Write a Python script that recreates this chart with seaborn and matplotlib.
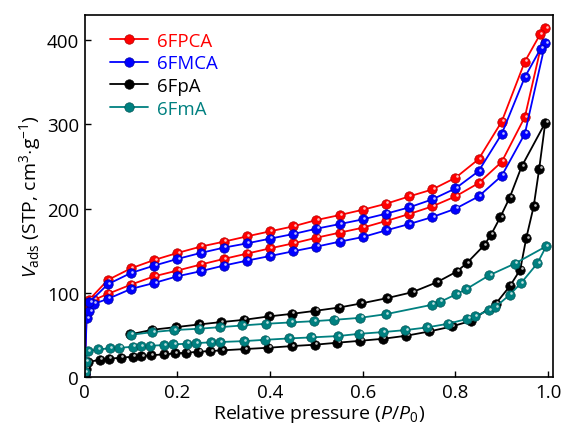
import numpy as np
import pandas as pd
import matplotlib
matplotlib.use("Agg")
import matplotlib.pyplot as plt
import matplotlib.transforms as mtransforms
from matplotlib.lines import Line2D
import seaborn as sns

# ---- N2 isotherm data (relative pressure, adsorbed volume) ----
# 6FPCA
fpca_ads_p = [0.0003, 0.004, 0.009, 0.02, 0.05, 0.1, 0.15, 0.2, 0.25, 0.3, 0.35,
              0.4, 0.45, 0.5, 0.55, 0.6, 0.65, 0.7, 0.75, 0.8, 0.85, 0.9, 0.95, 0.994]
fpca_ads_v = [5, 76, 85, 91.6, 98.7, 109.8, 119.6, 126.4, 133.5, 140.2, 146.5,
              152.8, 158.7, 165.4, 171.4, 177.3, 185.2, 193.5, 202.6, 214.4, 230.2, 255.5, 308.8, 414.6]
fpca_des_p = [0.983, 0.95, 0.9, 0.85, 0.8, 0.75, 0.7, 0.65, 0.6, 0.55, 0.5, 0.45, 0.4, 0.35,
              0.3, 0.25, 0.2, 0.15, 0.1, 0.05, 0.01]
fpca_des_v = [407, 374.7, 303.3, 258.6, 236.5, 222.7, 214.4, 205.7, 198.6, 192.3, 186.4, 178.9,
              173, 167, 160.7, 154.8, 147.3, 139, 129.1, 115.3, 92]

# 6FMCA
fmca_ads_p = [0.0003, 0.004, 0.01, 0.02, 0.05, 0.1, 0.15, 0.2, 0.25, 0.3, 0.35,
              0.4, 0.45, 0.5, 0.55, 0.6, 0.65, 0.7, 0.75, 0.8, 0.85, 0.9, 0.95, 0.994]
fmca_ads_v = [4, 70, 78, 86.9, 92.8, 104.6, 111.7, 119.6, 125.6, 132.3, 138.2,
              143.7, 149.3, 154.8, 160.7, 166.2, 174.1, 181.6, 189.9, 199.8, 214.4, 238.9, 289, 396.4]
fmca_des_p = [0.984, 0.95, 0.9, 0.85, 0.8, 0.75, 0.7, 0.65, 0.6, 0.55, 0.5, 0.45, 0.4, 0.35,
              0.3, 0.25, 0.2, 0.15, 0.1, 0.05, 0.01]
fmca_des_v = [390, 356.2, 288.6, 244.4, 223.9, 210.9, 201.4, 193.9, 187.2, 181.6, 176.1, 169.8,
              164.3, 158.7, 153.6, 147.3, 140.2, 132.3, 123.6, 110.2, 88.8]

# 6FpA
fpa_ads_p = [0.0005, 0.002, 0.008, 0.033, 0.052, 0.078, 0.104, 0.122, 0.143, 0.170, 0.195, 0.219,
             0.245, 0.271, 0.296, 0.346, 0.396, 0.447, 0.496, 0.545, 0.595, 0.644, 0.694, 0.744,
             0.792, 0.834, 0.887, 0.918, 0.940, 0.953, 0.969, 0.981, 0.994]
fpa_ads_v = [3, 10, 17.8, 20.5, 21.7, 22.9, 24.1, 24.9, 25.7, 26.9, 28, 28.8,
             30, 30.8, 31.6, 33.2, 34.7, 36.7, 38.3, 40.7, 43, 45.4, 49, 54.1,
             60, 66.7, 86.9, 108.2, 127.5, 165, 202.6, 247.6, 302]
fpa_des_p = [0.943, 0.917, 0.897, 0.877, 0.862, 0.825, 0.803, 0.760, 0.707, 0.652, 0.596, 0.549,
             0.498, 0.447, 0.397, 0.344, 0.294, 0.247, 0.196, 0.146, 0.097]
fpa_des_v = [250, 212.8, 189.9, 169, 156.4, 135.4, 125.2, 112.5, 100.7, 93.6, 87.3, 82.5,
             78.6, 75, 71.9, 67.9, 65.2, 62.4, 59.2, 56.1, 50.5]

# 6FmA
fma_ads_p = [0.0005, 0.002, 0.006, 0.029, 0.054, 0.075, 0.104, 0.121, 0.141, 0.171, 0.191, 0.220,
             0.240, 0.272, 0.291, 0.343, 0.390, 0.441, 0.489, 0.546, 0.593, 0.643, 0.692, 0.738,
             0.784, 0.826, 0.842, 0.872, 0.886, 0.917, 0.942, 0.977, 0.996]
fma_ads_v = [6, 18, 30.4, 32.8, 34, 34.7, 35.9, 36.3, 37.1, 37.9, 38.7, 39.5,
             40.3, 41.1, 41.5, 42.6, 44.2, 45.8, 47, 48.6, 51.3, 53.3, 55.7, 58.8,
             63.2, 69.1, 72.3, 79, 82.9, 97.5, 111.7, 135, 155.2]
fma_des_p = [0.928, 0.873, 0.823, 0.802, 0.767, 0.749, 0.650, 0.595, 0.539, 0.494, 0.445, 0.391,
             0.340, 0.293, 0.246, 0.192, 0.146, 0.100]
fma_des_v = [134.6, 120.8, 104.2, 98.3, 89.2, 85.7, 74.6, 70.3, 67.9, 66.3, 64.8, 63.2,
             61.2, 59.2, 57.3, 55.7, 53.3, 50.1]

names = ["6FPCA", "6FMCA", "6FpA", "6FmA"]
colors = ["#ff0000", "#0000ff", "#000000", "#008080"]
edge_colors = ["#b00000", "#0000a0", "#000000", "#005555"]
series = [
    (fpca_ads_p + fpca_des_p, fpca_ads_v + fpca_des_v),
    (fmca_ads_p + fmca_des_p, fmca_ads_v + fmca_des_v),
    (fpa_ads_p + fpa_des_p, fpa_ads_v + fpa_des_v),
    (fma_ads_p + fma_des_p, fma_ads_v + fma_des_v),
]

sns.set_style("ticks", {"axes.edgecolor": "black", "text.color": "black",
                        "axes.labelcolor": "black", "xtick.color": "black",
                        "ytick.color": "black"})
plt.rcParams["font.family"] = ["Open Sans", "DejaVu Sans"]
plt.rcParams["mathtext.fontset"] = "custom"
plt.rcParams["mathtext.rm"] = "Open Sans"
plt.rcParams["mathtext.it"] = "Open Sans:italic"

fig = plt.figure(figsize=(5.65, 4.31), dpi=100)
ax = fig.add_axes([0.150, 0.123, 0.829, 0.840])

ms = 6.8
# small specular spot on every marker, shifted up-right
hl = mtransforms.offset_copy(ax.transData, fig=fig, x=1.3, y=1.4, units="dots")

for name, col, ec, (p, v) in zip(names, colors, edge_colors, series):
    df = pd.DataFrame({"p": p, "v": v})
    sns.lineplot(data=df, x="p", y="v", sort=False, estimator=None, ax=ax,
                 color=col, lw=1.3, marker="o", markersize=ms,
                 markeredgecolor=ec, markeredgewidth=0.5, label=None)
    ax.plot(p, v, ls="none", marker="o", markersize=1.9, color="white",
            alpha=0.75, markeredgewidth=0, transform=hl)

ax.set_xlim(0, 1.011)
ax.set_ylim(0, 430)
ax.set_xticks([0, 0.2, 0.4, 0.6, 0.8, 1.0])
ax.set_xticklabels(["0", "0.2", "0.4", "0.6", "0.8", "1.0"])
ax.set_yticks([0, 100, 200, 300, 400])
ax.tick_params(direction="in", length=4, width=1, labelsize=13.5, pad=4,
               colors="black")
for s in ax.spines.values():
    s.set_linewidth(1.2)
    s.set_color("black")

ax.set_xlabel("Relative pressure ($P$/$P_0$)", fontsize=14, labelpad=1, color="black")
ax.set_ylabel(r"$V_\mathrm{ads}$ (STP, cm$^3$$\cdot$g$^{-1}$)", fontsize=14, labelpad=3,
              color="black")

handles = [Line2D([], [], color=c, lw=1.3, marker="o", markersize=ms,
                  markeredgecolor=e, markeredgewidth=0.5)
           for c, e in zip(colors, edge_colors)]
leg = ax.legend(handles, names, loc="upper left", frameon=False, fontsize=13.4,
                handlelength=2.05, handletextpad=0.5, labelspacing=0.25,
                bbox_to_anchor=(0.03, 0.985), borderaxespad=0.2)
for t, c in zip(leg.get_texts(), colors):
    t.set_color(c)

fig.savefig("out.png", dpi=100)
